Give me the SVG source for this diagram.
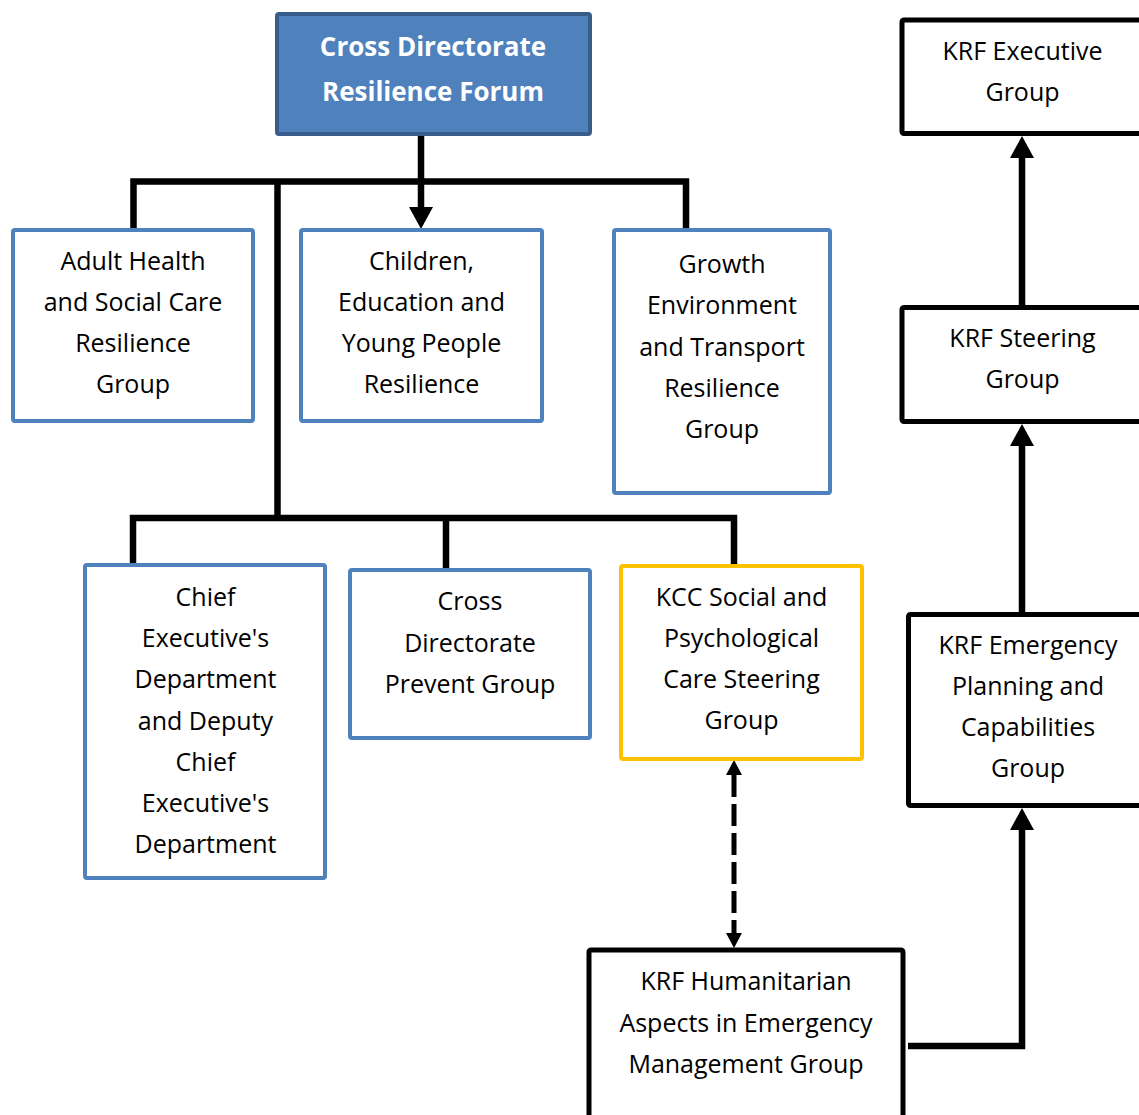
<svg xmlns="http://www.w3.org/2000/svg" width="1139" height="1115" viewBox="0 0 1139 1115">
<style>
  .bx{fill:#fff;stroke:#4F81BD;stroke-width:4}
  .yl{fill:#fff;stroke:#FFC000;stroke-width:4}
  .bk{fill:#fff;stroke:#000;stroke-width:5}
  .top{fill:#4F81BD;stroke:#385D8A;stroke-width:4}
  text{font-family:"Open Sans","DejaVu Sans",sans-serif;font-size:25px;fill:#000;text-anchor:middle}
  .tt{font-weight:bold;fill:#fff;font-size:26px}
  .ln{fill:none;stroke:#000;stroke-width:6.5;stroke-linejoin:miter}
  .ds{fill:none;stroke:#000;stroke-width:5;stroke-dasharray:22 7}
</style>
<defs>
  <marker id="ah" markerUnits="userSpaceOnUse" markerWidth="22" markerHeight="24" refX="0" refY="12" orient="auto">
    <path d="M0,0 L22,12 L0,24 z" fill="#000"/>
  </marker>
  <marker id="ahs" markerUnits="userSpaceOnUse" markerWidth="15" markerHeight="16" refX="0" refY="8" orient="auto-start-reverse">
    <path d="M0,0 L15,8 L0,16 z" fill="#000"/>
  </marker>
</defs>

<g id="connectors">
  <path class="ln" d="M133.5,230 V181.5 H686 V230"/>
  <path class="ln" d="M421,136 V207" marker-end="url(#ah)"/>
  <path class="ln" d="M277.5,181.5 V518"/>
  <path class="ln" d="M133,566 V518 H734 V566"/>
  <path class="ln" d="M446,518 V570"/>
  <path class="ds" d="M734,775 V933" marker-start="url(#ahs)" marker-end="url(#ahs)"/>
  <path class="ln" d="M1022,307 V158" marker-end="url(#ah)"/>
  <path class="ln" d="M1022,614 V446" marker-end="url(#ah)"/>
  <path class="ln" d="M908,1046 H1022 V830" marker-end="url(#ah)"/>
</g>

<g id="cross-directorate-resilience-forum">
  <rect class="top" x="277" y="14" width="313" height="120" rx="2"/>
  <text class="tt" x="433" y="56">Cross Directorate</text>
  <text class="tt" x="433" y="101">Resilience Forum</text>
</g>

<g id="adult-health">
  <rect class="bx" x="13" y="230" width="240" height="191" rx="2"/>
  <text x="133" y="270">Adult Health</text>
  <text x="133" y="311">and Social Care</text>
  <text x="133" y="352">Resilience</text>
  <text x="133" y="393">Group</text>
</g>

<g id="children-education">
  <rect class="bx" x="301" y="230" width="241" height="191" rx="2"/>
  <text x="421.5" y="270">Children,</text>
  <text x="421.5" y="311">Education and</text>
  <text x="421.5" y="352">Young People</text>
  <text x="421.5" y="393">Resilience</text>
</g>

<g id="growth-environment">
  <rect class="bx" x="614" y="230" width="216" height="263" rx="2"/>
  <text x="722" y="273">Growth</text>
  <text x="722" y="314">Environment</text>
  <text x="722" y="356">and Transport</text>
  <text x="722" y="397">Resilience</text>
  <text x="722" y="438">Group</text>
</g>

<g id="chief-executives-department">
  <rect class="bx" x="85" y="565" width="240" height="313" rx="2"/>
  <text x="205.5" y="606">Chief</text>
  <text x="205.5" y="647">Executive's</text>
  <text x="205.5" y="688">Department</text>
  <text x="205.5" y="730">and Deputy</text>
  <text x="205.5" y="771">Chief</text>
  <text x="205.5" y="812">Executive's</text>
  <text x="205.5" y="853">Department</text>
</g>

<g id="cross-directorate-prevent">
  <rect class="bx" x="350" y="570" width="240" height="168" rx="2"/>
  <text x="470" y="610">Cross</text>
  <text x="470" y="652">Directorate</text>
  <text x="470" y="693">Prevent Group</text>
</g>

<g id="kcc-social-psychological">
  <rect class="yl" x="621" y="566" width="241" height="193" rx="2"/>
  <text x="741.5" y="606">KCC Social and</text>
  <text x="741.5" y="647">Psychological</text>
  <text x="741.5" y="688">Care Steering</text>
  <text x="741.5" y="729">Group</text>
</g>

<g id="krf-humanitarian">
  <rect class="bk" x="589" y="950" width="314" height="200" rx="2"/>
  <text x="746" y="990">KRF Humanitarian</text>
  <text x="746" y="1032">Aspects in Emergency</text>
  <text x="746" y="1073">Management Group</text>
</g>

<g id="krf-executive">
  <rect class="bk" x="902" y="20" width="260" height="113.5" rx="2"/>
  <text x="1022.5" y="60">KRF Executive</text>
  <text x="1022.5" y="101">Group</text>
</g>

<g id="krf-steering">
  <rect class="bk" x="902" y="307.5" width="260" height="114" rx="2"/>
  <text x="1022.5" y="347">KRF Steering</text>
  <text x="1022.5" y="388">Group</text>
</g>

<g id="krf-emergency-planning">
  <rect class="bk" x="908.5" y="614.5" width="260" height="191" rx="2"/>
  <text x="1028" y="654">KRF Emergency</text>
  <text x="1028" y="695">Planning and</text>
  <text x="1028" y="736">Capabilities</text>
  <text x="1028" y="777">Group</text>
</g>
</svg>
